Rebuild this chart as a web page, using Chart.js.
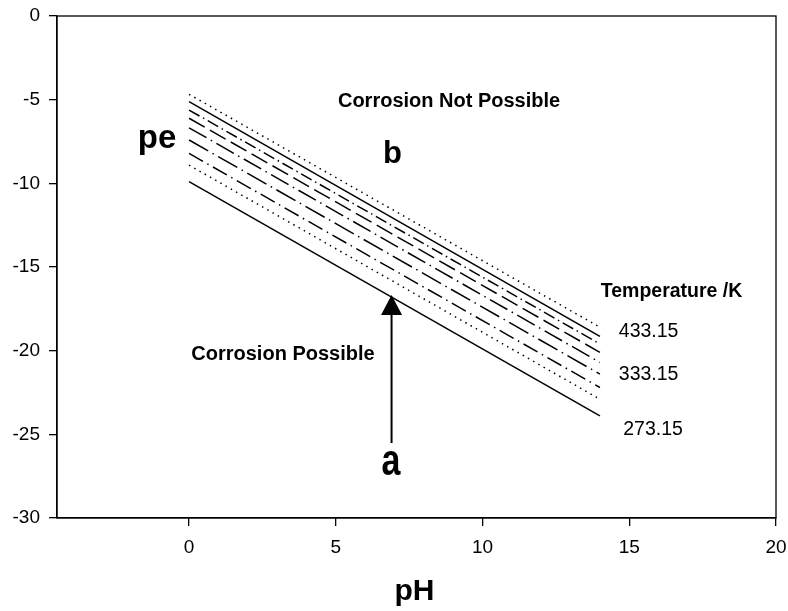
<!DOCTYPE html>
<html>
<head>
<meta charset="utf-8">
<script src="https://cdn.jsdelivr.net/npm/chart.js@4.4.1/dist/chart.umd.min.js"></script>
<style>
  html, body { margin: 0; padding: 0; background: #fff; }
  #wrap { width: 788px; height: 611px; }
</style>
</head>
<body>
<div id="wrap"><canvas id="peChart" width="788" height="611"></canvas></div>
<script>
// pH range of every line
const pH = [0, 14];

// pe at pH 0 and pH 14, one array per temperature (K)
const pe433 = [-4.68, -18.6];
const pe413 = [-5.12, -19.15];
const pe393 = [-5.62, -19.6];
const pe373 = [-6.11, -20.1];
const pe353 = [-6.68, -20.7];
const pe333 = [-7.41, -21.4];
const pe313 = [-8.21, -22.2];
const pe293 = [-8.91, -22.9];
const pe273 = [-9.90, -23.9];

const tempLabels = ['433.15', '413.15', '393.15', '373.15', '353.15', '333.15', '313.15', '293.15', '273.15'];
const peSeries = [pe433, pe413, pe393, pe373, pe353, pe333, pe313, pe293, pe273];

const xTicks = [0, 5, 10, 15, 20];
const yTicks = [0, -5, -10, -15, -20, -25, -30];

const FONT = "'Liberation Sans', Arial, sans-serif";

// line style for each temperature, top to bottom
const dashes = [
    [1.5, 4.5],
    [],
    [12, 4, 1.5, 4],
    [18, 6],
    [20, 5, 1.5, 5],
    [22, 5, 1.5, 5],
    [16, 5, 1.5, 5],
    [1.5, 4.5],
    []
];

// text placed in data units (x = pH, y = pe, baseline)
const notes = [
    { text: 'Corrosion Not Possible', x: 8.86, y: -5.44, font: 'bold 20px ' + FONT },
    { text: 'b', x: 6.93, y: -8.79, font: 'bold 31px ' + FONT },
    { text: 'pe', x: -1.09, y: -7.89, font: 'bold 33px ' + FONT },
    { text: 'Temperature /K', x: 16.44, y: -16.8, font: 'bold 19.5px ' + FONT },
    { text: '433.15', x: 15.66, y: -19.17, font: '19.5px ' + FONT },
    { text: '333.15', x: 15.66, y: -21.76, font: '19.5px ' + FONT },
    { text: '273.15', x: 15.81, y: -25.04, font: '19.5px ' + FONT },
    { text: 'Corrosion Possible', x: 3.2, y: -20.56, font: 'bold 20px ' + FONT },
    { text: 'a', x: 6.88, y: -27.44, font: 'bold 34px ' + FONT, stretchY: 1.3 }
];

// arrow from "a" up to the 273.15 line
const arrowX = 6.9;
const arrowFrom = -25.52;
const arrowTo = -16.68;

function makeData() {
    let sets = [];
    for (let i = 0; i < peSeries.length; i++) {
        sets.push({
            label: tempLabels[i],
            data: pH.map((x, j) => ({ x: x, y: peSeries[i][j] })),
            borderColor: '#000',
            borderWidth: 1.5,
            borderDash: dashes[i],
            pointRadius: 0,
            fill: false,
            tension: 0
        });
    }
    return sets;
}

const extras = {
    id: 'extras',
    afterDatasetsDraw(chart) {
        const ctx = chart.ctx;
        const xs = chart.scales.x;
        const ys = chart.scales.y;
        const a = chart.chartArea;
        ctx.save();

        // frame on all four sides
        ctx.strokeStyle = '#000';
        ctx.lineWidth = 1.3;
        ctx.strokeRect(a.left, a.top, a.right - a.left, a.bottom - a.top);

        // arrow
        let ax = xs.getPixelForValue(arrowX);
        let y0 = ys.getPixelForValue(arrowFrom);
        let y1 = ys.getPixelForValue(arrowTo);
        ctx.lineWidth = 2;
        ctx.beginPath();
        ctx.moveTo(ax, y0);
        ctx.lineTo(ax, y1 + 18);
        ctx.stroke();
        ctx.fillStyle = '#000';
        ctx.beginPath();
        ctx.moveTo(ax, y1);
        ctx.lineTo(ax - 10.5, y1 + 20);
        ctx.lineTo(ax + 10.5, y1 + 20);
        ctx.closePath();
        ctx.fill();

        // notes
        ctx.textAlign = 'center';
        ctx.textBaseline = 'alphabetic';
        notes.forEach(n => {
            ctx.font = n.font;
            let px = xs.getPixelForValue(n.x);
            let py = ys.getPixelForValue(n.y);
            if (n.stretchY) {
                ctx.save();
                ctx.translate(px, py);
                ctx.scale(1, n.stretchY);
                ctx.fillText(n.text, 0, 0);
                ctx.restore();
            } else {
                ctx.fillText(n.text, px, py);
            }
        });

        // x axis title
        ctx.font = 'bold 30px ' + FONT;
        ctx.fillText('pH', (a.left + a.right) / 2 - 2, chart.height - 11);
        ctx.restore();
    }
};

const config = {
    type: 'line',
    data: { datasets: makeData() },
    options: {
        responsive: false,
        animation: false,
        layout: { padding: { top: 16, right: 12, left: 0, bottom: 0 } },
        plugins: {
            legend: { display: false },
            tooltip: { enabled: false }
        },
        scales: {
            x: {
                type: 'linear',
                min: -4.5,
                max: 20,
                afterBuildTicks: s => { s.ticks = xTicks.map(v => ({ value: v })); },
                afterFit: s => { s.height = 93; s.paddingLeft = 0; s.paddingRight = 0; },
                ticks: { color: '#000', font: { family: FONT, size: 19 }, padding: 10, maxRotation: 0 },
                grid: { drawOnChartArea: false, drawTicks: true, tickLength: 8, color: '#000', lineWidth: 1.3 },
                border: { display: true, color: '#000', width: 1.3 }
            },
            y: {
                type: 'linear',
                min: -30,
                max: 0,
                afterBuildTicks: s => { s.ticks = yTicks.map(v => ({ value: v })); },
                afterFit: s => { s.width = 57; s.paddingTop = 0; s.paddingBottom = 0; },
                ticks: { color: '#000', font: { family: FONT, size: 19 }, padding: 9 },
                grid: { drawOnChartArea: false, drawTicks: true, tickLength: 8, color: '#000', lineWidth: 1.3 },
                border: { display: true, color: '#000', width: 1.3 }
            }
        }
    },
    plugins: [extras]
};

let ctx = document.getElementById('peChart').getContext('2d');
new Chart(ctx, config);
</script>
</body>
</html>
